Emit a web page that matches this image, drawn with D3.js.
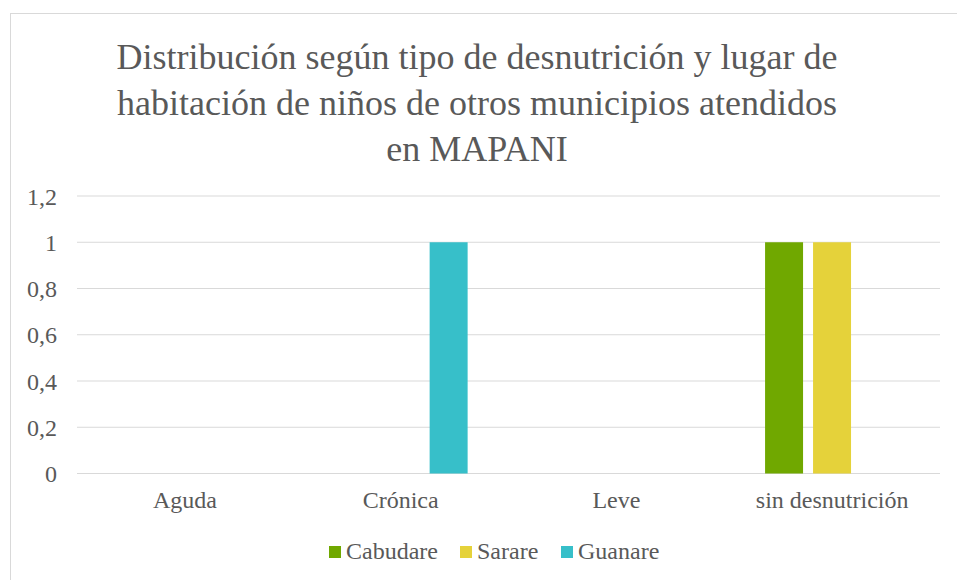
<!DOCTYPE html>
<html>
<head>
<meta charset="utf-8">
<script src="https://cdn.jsdelivr.net/npm/d3@7"></script>
<style>
  body { margin: 0; background: #fff; }
  svg text { font-family: "Liberation Serif", "Times New Roman", serif; fill: #595959; }
</style>
</head>
<body>
<div id="viz"></div>
<script>
const categories = ['Aguda', 'Crónica', 'Leve', 'sin desnutrición'];
const seriesNames = ['Cabudare', 'Sarare', 'Guanare'];
const cabudare = [0, 0, 0, 1];
const sarare = [0, 0, 0, 1];
const guanare = [0, 1, 0, 0];
const yTicks = [0, 0.2, 0.4, 0.6, 0.8, 1, 1.2];
const titleLines = [
  'Distribución según tipo de desnutrición y lugar de',
  'habitación de niños de otros municipios atendidos',
  'en MAPANI'
];
const colors = ['#70a800', '#e5d23a', '#37bfc9'];

const seriesValues = [cabudare, sarare, guanare];
const rows = categories.map((c, i) => ({
  category: c,
  values: seriesNames.map((s, j) => ({ series: s, value: seriesValues[j][i] }))
}));

const W = 957, H = 580;
const plot = { left: 77, right: 940, top: 196, bottom: 473.5 };
const serif = '"Liberation Serif", "Times New Roman", serif';

const svg = d3.select('#viz').append('svg')
  .attr('width', W)
  .attr('height', H);

// chart border
svg.append('rect')
  .attr('x', 10.5).attr('y', 13.5)
  .attr('width', 960).attr('height', 580)
  .attr('fill', '#fff')
  .attr('stroke', '#d9d9d9');

const x0 = d3.scaleBand()
  .domain(categories)
  .range([plot.left, plot.right])
  .paddingInner(0.379)
  .paddingOuter(0.19);

const x1 = d3.scaleBand()
  .domain(seriesNames)
  .range([0, x0.bandwidth()])
  .paddingInner(0.2083);

const y = d3.scaleLinear()
  .domain([0, 1.2])
  .range([plot.bottom, plot.top]);

const color = d3.scaleOrdinal().domain(seriesNames).range(colors);

// gridlines
svg.append('g')
  .selectAll('line')
  .data(yTicks)
  .join('line')
  .attr('x1', plot.left).attr('x2', plot.right)
  .attr('y1', d => y(d)).attr('y2', d => y(d))
  .attr('stroke', '#d9d9d9')
  .attr('stroke-width', 1);

// y axis labels
const yAxis = svg.append('g')
  .attr('transform', `translate(${plot.left - 20}, 0)`)
  .call(d3.axisLeft(y).tickValues(yTicks).tickSize(0).tickPadding(0)
    .tickFormat(d => String(d).replace('.', ',')));
yAxis.select('.domain').remove();
yAxis.attr('font-family', serif).attr('font-size', 24);
yAxis.selectAll('text').attr('fill', '#595959').attr('dy', '0.34em');

// x axis labels
const xAxis = svg.append('g')
  .attr('transform', `translate(0, ${plot.bottom})`)
  .call(d3.axisBottom(d3.scaleBand().domain(categories).range([plot.left, plot.right]))
    .tickSize(0).tickPadding(17));
xAxis.select('.domain').remove();
xAxis.attr('font-family', serif).attr('font-size', 24);
xAxis.selectAll('text').attr('fill', '#595959');

// bars
svg.append('g')
  .selectAll('g')
  .data(rows)
  .join('g')
  .attr('transform', d => `translate(${x0(d.category)}, 0)`)
  .selectAll('rect')
  .data(d => d.values.filter(v => v.value > 0))
  .join('rect')
  .attr('x', d => x1(d.series))
  .attr('y', d => y(d.value))
  .attr('width', x1.bandwidth())
  .attr('height', d => y(0) - y(d.value))
  .attr('fill', d => color(d.series));

// title
svg.append('text')
  .attr('x', 477)
  .attr('y', 69)
  .attr('text-anchor', 'middle')
  .attr('font-family', serif)
  .attr('font-size', 36)
  .attr('fill', '#595959')
  .selectAll('tspan')
  .data(titleLines)
  .join('tspan')
  .attr('x', 477)
  .attr('dy', (d, i) => i === 0 ? 0 : 46)
  .text(d => d);

// legend
const legendX = [329, 460, 561];
const legend = svg.append('g')
  .attr('font-family', serif)
  .attr('font-size', 24)
  .selectAll('g')
  .data(seriesNames)
  .join('g')
  .attr('transform', (d, i) => `translate(${legendX[i]}, 546)`);

legend.append('rect')
  .attr('width', 12).attr('height', 12)
  .attr('fill', d => color(d));

legend.append('text')
  .attr('x', 17)
  .attr('y', 13)
  .attr('fill', '#595959')
  .text(d => d);
</script>
</body>
</html>
